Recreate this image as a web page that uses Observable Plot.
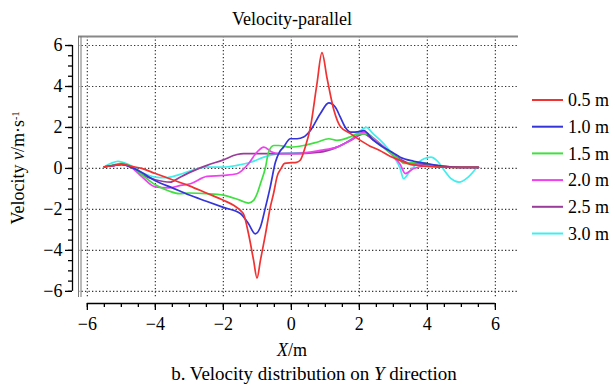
<!DOCTYPE html>
<html><head><meta charset="utf-8">
<script src="https://cdn.jsdelivr.net/npm/d3@7"></script>
<script src="https://cdn.jsdelivr.net/npm/@observablehq/plot@0.6"></script>
<style>
body{margin:0;background:#fff;}
#wrap{position:relative;width:615px;height:385px;font-family:'Liberation Serif','Times New Roman',Times,'DejaVu Serif',serif;}
#wrap svg{position:absolute;left:0;top:0;}
#wrap text{font-family:'Liberation Serif','Times New Roman',Times,'DejaVu Serif',serif;}
</style></head><body><div id="wrap"></div>
<script>
// ---- data ----
const seriesNames = ["0.5 m","1.0 m","1.5 m","2.0 m","2.5 m","3.0 m"];
const seriesColors = ["#f03232","#3434d8","#40e040","#f040f0","#9a3c9a","#40eeee"];

const x05 = [-5.5,-5.2,-5.0,-4.7,-4.4,-4.0,-3.5,-3.0,-2.5,-2.0,-1.7,-1.5,-1.4,-1.26,-1.11,-1.01,-0.91,-0.76,-0.62,-0.52,-0.42,-0.3,-0.2,0.0,0.15,0.26,0.4,0.56,0.75,0.9,1.05,1.25,1.44,1.74,2.03,2.3,2.6,2.9,3.2,3.5,3.7,4.0,4.4,5.0,5.5];
const y05 = [0.08,0.15,0.2,0.1,0.0,-0.25,-0.55,-0.85,-1.2,-1.55,-1.8,-2.05,-2.25,-3.19,-4.49,-5.35,-4.49,-3.19,-1.9,-1.2,-0.4,0.0,0.25,0.28,0.3,0.4,1.0,2.0,4.1,5.65,4.4,2.85,2.05,1.7,1.37,1.1,0.88,0.6,0.39,0.2,0.15,0.1,0.06,0.05,0.05];

const x10 = [-5.5,-5.2,-5.0,-4.7,-4.4,-4.0,-3.5,-3.0,-2.5,-2.0,-1.5,-1.26,-1.06,-0.91,-0.76,-0.62,-0.47,-0.35,-0.23,-0.03,0.17,0.36,0.56,0.85,1.1,1.29,1.44,1.59,1.74,2.0,2.13,2.4,2.7,3.0,3.2,3.6,4.0,4.5,5.0,5.5];
const y10 = [0.08,0.15,0.2,0.05,-0.2,-0.6,-0.95,-1.3,-1.6,-1.9,-2.2,-2.7,-3.19,-2.86,-1.89,-0.9,0.3,0.8,1.04,1.45,1.45,1.53,1.85,2.67,3.2,3.0,2.5,2.0,1.77,1.8,1.85,1.4,1.04,0.75,0.55,0.35,0.23,0.1,0.05,0.05];

const x15 = [-5.5,-5.2,-5.0,-4.7,-4.4,-4.0,-3.6,-3.3,-3.0,-2.5,-2.0,-1.5,-1.26,-1.11,-1.0,-0.91,-0.76,-0.67,-0.52,-0.37,-0.03,0.36,0.75,1.1,1.34,1.74,1.93,2.23,2.5,2.81,3.2,3.3,3.8,4.2,4.6,5.0,5.5];
const y15 = [0.08,0.18,0.25,0.1,-0.3,-0.8,-1.1,-1.23,-1.2,-1.23,-1.3,-1.56,-1.69,-1.56,-1.2,-0.75,0.06,0.8,1.12,1.12,1.04,1.12,1.28,1.45,1.37,1.55,1.69,1.69,1.3,0.88,0.39,0.25,0.3,0.15,0.08,0.05,0.05];

const x20 = [-5.5,-5.2,-5.0,-4.7,-4.4,-4.0,-3.6,-3.26,-2.97,-2.48,-2.0,-1.6,-1.26,-1.01,-0.81,-0.57,-0.37,0.17,0.85,1.34,1.74,2.13,2.4,2.72,3.0,3.2,3.35,3.6,4.0,4.5,5.0,5.5];
const y20 = [0.08,0.15,0.2,0.05,-0.4,-0.9,-0.95,-0.83,-0.75,-0.39,-0.34,-0.26,0.23,0.8,1.04,0.8,0.72,0.72,0.88,1.04,1.37,1.77,1.5,1.04,0.6,0.2,-0.25,0.0,0.12,0.08,0.05,0.05];

const x25 = [-5.5,-5.2,-5.0,-4.7,-4.4,-4.0,-3.56,-3.3,-2.97,-2.48,-2.0,-1.6,-1.4,-1.0,0.0,0.85,1.34,1.74,2.13,2.4,2.72,3.2,3.5,4.0,4.5,5.0,5.5];
const y25 = [0.08,0.15,0.2,0.05,-0.3,-0.55,-0.67,-0.45,-0.18,0.15,0.42,0.68,0.72,0.72,0.72,0.8,1.04,1.37,1.69,1.4,1.04,0.45,0.25,0.2,0.1,0.05,0.05];

const x30 = [-5.5,-5.3,-5.1,-4.8,-4.4,-4.0,-3.7,-3.3,-2.87,-2.48,-2.0,-1.6,-1.2,-0.81,-0.37,0.0,0.5,1.0,1.34,1.74,2.0,2.2,2.4,2.72,3.0,3.2,3.3,3.5,3.9,4.1,4.3,4.5,4.7,4.93,5.2,5.46];
const y30 = [0.08,0.25,0.35,0.2,-0.2,-0.42,-0.45,-0.3,-0.07,0.06,0.06,0.15,0.3,0.55,0.72,0.75,0.78,0.85,1.04,1.4,1.8,2.0,1.7,1.2,0.6,0.0,-0.5,-0.1,0.47,0.55,0.35,-0.1,-0.5,-0.67,-0.42,0.06];

const xTicks = [-6,-4,-2,0,2,4,6];
const yTicks = [-6,-4,-2,0,2,4,6];
const xMinor = d3.range(-6, 6.001, 0.5);
const yMinor = d3.range(-6, 6.001, 0.5);
const xDomain = [-6.26, 6.68];
const yDomain = [-6.3, 6.44];

const titleText = "Velocity-parallel";
const captionPre = "b. Velocity distribution on ";
const captionVar = "Y";
const captionPost = " direction";

// ---- table ----
const xs = [x05,x10,x15,x20,x25,x30];
const ys = [y05,y10,y15,y20,y25,y30];
const drawOrder = [5,4,3,2,1,0];
const rows = [];
for (const i of drawOrder) xs[i].forEach((x, j) => rows.push({series: seriesNames[i], x, y: ys[i][j]}));

const fmt = d => d < 0 ? "\u2212" + Math.abs(d) : String(d);
const font = "'Liberation Serif','Times New Roman',Times,'DejaVu Serif',serif";

const plot = Plot.plot({
  width: 615, height: 385,
  marginTop: 36, marginBottom: 88, marginLeft: 78, marginRight: 97,
  style: {fontFamily: font, fontSize: "17px", background: "transparent", overflow: "visible"},
  x: {domain: xDomain},
  y: {domain: yDomain},
  color: {domain: seriesNames, range: seriesColors},
  marks: [
    Plot.gridX(xTicks, {stroke: "#333", strokeOpacity: 1, strokeDasharray: "1.3,2.2", strokeWidth: 1.2}),
    Plot.gridY(yTicks, {stroke: "#333", strokeOpacity: 1, strokeDasharray: "1.3,2.2", strokeWidth: 1.2}),
    Plot.ruleY([yDomain[1]], {stroke: "#888", strokeWidth: 2}),
    Plot.ruleX([xDomain[0]], {stroke: "#777", strokeWidth: 1, y1: yDomain[0], y2: yDomain[1]}),
    Plot.ruleX([xDomain[0]], {stroke: "#777", strokeWidth: 1, dx: 2.5, y1: yDomain[0], y2: yDomain[1]}),
    Plot.line(rows, {x: "x", y: "y", z: "series", stroke: "series", strokeWidth: 1.7, curve: "monotone-x"}),
    // y axis
    Plot.ruleX([xDomain[0]], {y1: yTicks[0], y2: yTicks[yTicks.length-1], dx: -6, stroke: "#000", strokeWidth: 1.3}),
    Plot.axisY(yMinor, {anchor: "left", tickSize: 4, dx: -6, fill: "none", label: null, stroke: "#000", strokeWidth: 1.3}),
    Plot.axisY(yTicks, {anchor: "left", tickSize: 7, dx: -6, tickPadding: 3, tickFormat: fmt, label: null, stroke: "#000", strokeWidth: 1.3, fill: "#000", fontSize: 18, fontFamily: font}),
    // x axis
    Plot.ruleY([yDomain[0]], {x1: xTicks[0], x2: xTicks[xTicks.length-1], dy: 6, stroke: "#000", strokeWidth: 1.3}),
    Plot.axisX(xMinor, {anchor: "bottom", tickSize: 4, dy: 6, fill: "none", label: null, stroke: "#000", strokeWidth: 1.3}),
    Plot.axisX(xTicks, {anchor: "bottom", tickSize: 7, dy: 6, tickPadding: 7, tickFormat: fmt, label: null, stroke: "#000", strokeWidth: 1.3, fill: "#000", fontSize: 18, fontFamily: font})
  ]
});
const wrap = document.getElementById("wrap");
wrap.appendChild(plot);

// ---- overlay: titles, labels, legend ----
const svg = d3.select(wrap).append("svg").attr("width", 615).attr("height", 385)
  .attr("font-family", font).style("pointer-events", "none");
svg.append("text").attr("x", 292).attr("y", 25).attr("text-anchor", "middle").attr("font-size", 18).text(titleText);
const xl = svg.append("text").attr("x", 292).attr("y", 356).attr("text-anchor", "middle").attr("font-size", 18);
xl.append("tspan").attr("font-style", "italic").text("X");
xl.append("tspan").text("/m");
const yl = svg.append("text").attr("transform", "translate(24,168) rotate(-90)").attr("text-anchor", "middle").attr("font-size", 18);
yl.append("tspan").text("Velocity ");
yl.append("tspan").attr("font-style", "italic").text("v");
yl.append("tspan").text("/m\u00b7s");
yl.append("tspan").attr("baseline-shift", "super").attr("font-size", 10).text("-1");
const cap = svg.append("text").attr("x", 314).attr("y", 380).attr("text-anchor", "middle").attr("font-size", 19);
cap.append("tspan").text(captionPre);
cap.append("tspan").attr("font-style", "italic").text(captionVar);
cap.append("tspan").text(captionPost);

const lg = svg.append("g");
seriesNames.forEach((name, i) => {
  const y = 100 + i * 26.7;
  lg.append("line").attr("x1", 532).attr("x2", 563).attr("y1", y).attr("y2", y)
    .attr("stroke", seriesColors[i]).attr("stroke-width", 2);
  lg.append("text").attr("x", 568).attr("y", y).attr("dy", "0.34em").attr("font-size", 18).text(name);
});
</script></body></html>
